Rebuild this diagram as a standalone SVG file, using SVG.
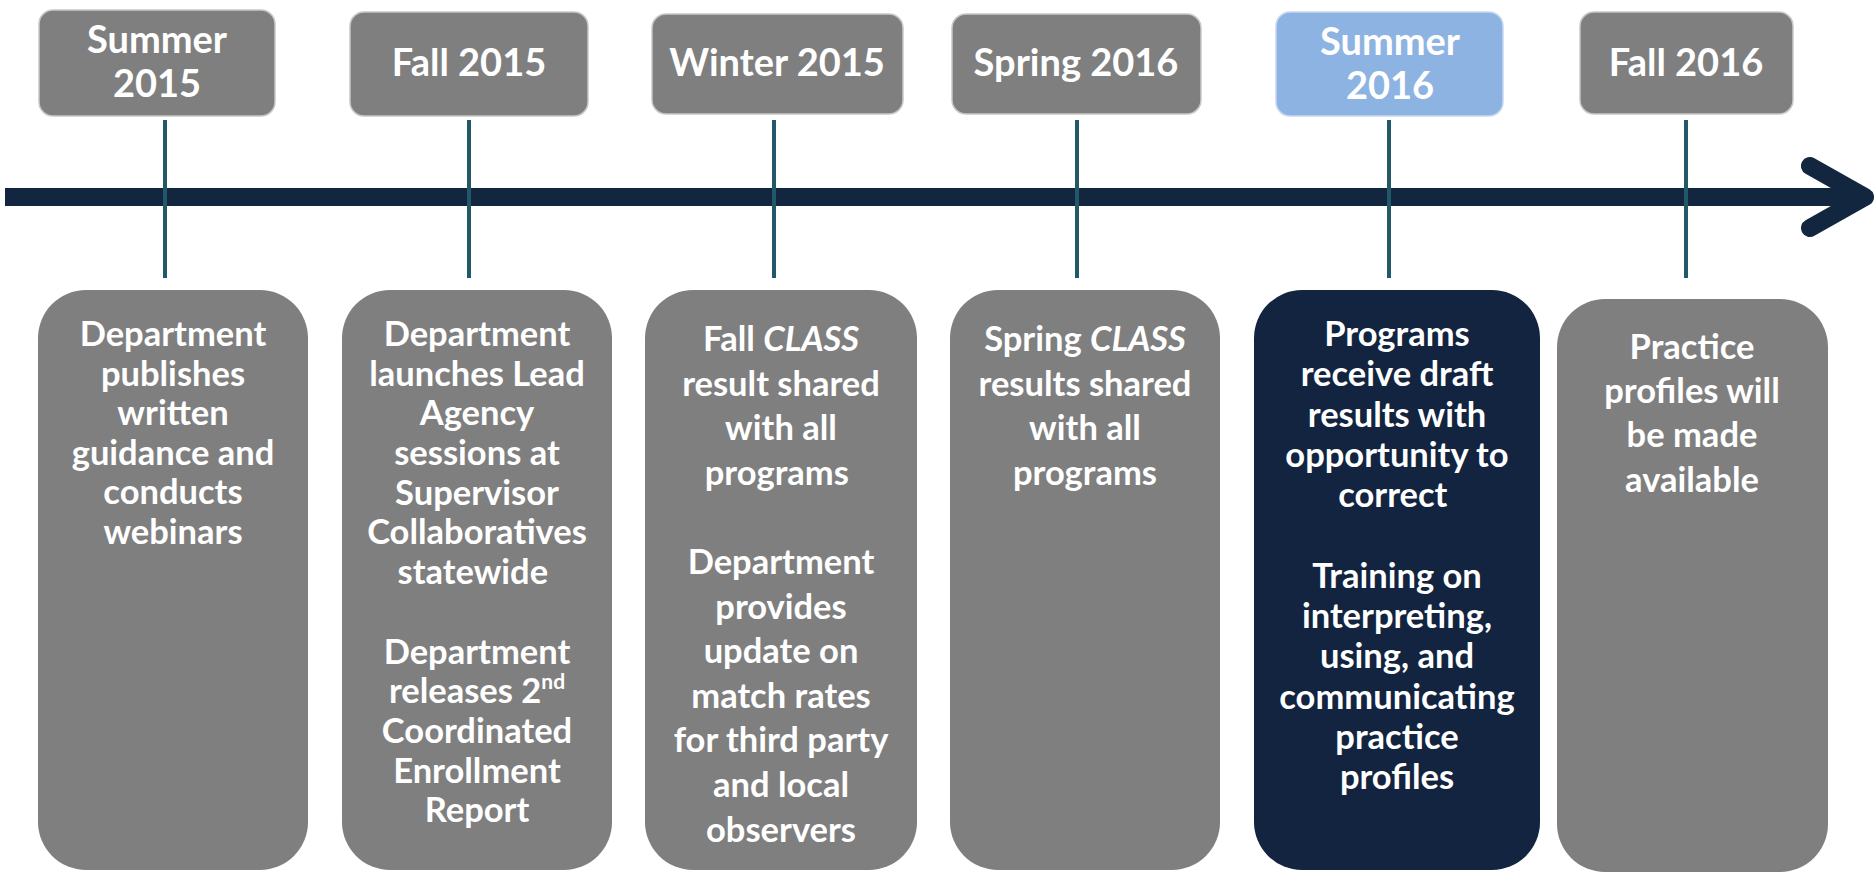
<svg xmlns="http://www.w3.org/2000/svg" width="1874" height="880" viewBox="0 0 1874 880">
<style>
.hdr{fill:#7f7f7f;stroke:#c8c8c8;stroke-width:1.5}
.hdrb{fill:#8db3e2;stroke:#c8d8ee;stroke-width:1.5}
.box{fill:#7f7f7f}
.boxd{fill:#12243f}
.ht{font-family:Lato,"Liberation Sans",sans-serif;font-weight:700;font-size:38px;fill:#fff;text-anchor:middle}
.bt{font-family:Lato,"Liberation Sans",sans-serif;font-weight:700;font-size:34.5px;fill:#fff;text-anchor:middle}
.tick{stroke:#215968;stroke-width:4}
.axis{stroke:#12263f;stroke-width:18;fill:none;stroke-linecap:round;stroke-linejoin:round}
</style>
<rect width="1874" height="880" fill="#fff"/>
<g id="connectors">
<line class="axis" x1="5" y1="197" x2="1862" y2="197" style="stroke-linecap:butt"/>
<polyline class="axis" points="1810,166 1865,197 1810,228"/>
<line class="tick" x1="165" y1="120" x2="165" y2="278"/>
<line class="tick" x1="469" y1="120" x2="469" y2="278"/>
<line class="tick" x1="774" y1="120" x2="774" y2="278"/>
<line class="tick" x1="1077" y1="120" x2="1077" y2="278"/>
<line class="tick" x1="1389" y1="120" x2="1389" y2="278"/>
<line class="tick" x1="1686" y1="120" x2="1686" y2="278"/>
</g>
<g id="h1"><rect class="hdr" x="39" y="10" width="236" height="106" rx="14"/>
<text class="ht" x="157" y="53">Summer</text><text class="ht" x="157" y="97">2015</text></g>
<g id="h2"><rect class="hdr" x="350" y="12" width="238" height="104" rx="14"/>
<text class="ht" x="469" y="76">Fall 2015</text></g>
<g id="h3"><rect class="hdr" x="652" y="14" width="251" height="100" rx="14"/>
<text class="ht" x="777" y="76">Winter 2015</text></g>
<g id="h4"><rect class="hdr" x="952" y="14" width="249" height="100" rx="14"/>
<text class="ht" x="1076" y="76">Spring 2016</text></g>
<g id="h5"><rect class="hdrb" x="1276" y="12" width="227" height="104" rx="14"/>
<text class="ht" x="1390" y="55">Summer</text><text class="ht" x="1390" y="99">2016</text></g>
<g id="h6"><rect class="hdr" x="1580" y="12" width="213" height="102" rx="14"/>
<text class="ht" x="1686" y="76">Fall 2016</text></g>

<g id="b1"><rect class="box" x="38" y="290" width="270" height="580" rx="48"/>
<text class="bt">
<tspan x="173" y="346">Department</tspan><tspan x="173" y="386">publishes</tspan><tspan x="173" y="425">written</tspan><tspan x="173" y="465">guidance and</tspan><tspan x="173" y="504">conducts</tspan><tspan x="173" y="544">webinars</tspan>
</text></g>
<g id="b2"><rect class="box" x="342" y="290" width="270" height="580" rx="48"/>
<text class="bt">
<tspan x="477" y="346">Department</tspan><tspan x="477" y="386">launches Lead</tspan><tspan x="477" y="425">Agency</tspan><tspan x="477" y="465">sessions at</tspan><tspan x="477" y="505">Supervisor</tspan><tspan x="477" y="544">Collaboratives</tspan><tspan x="477" y="584">statewide</tspan>
<tspan x="477" y="664">Department</tspan><tspan x="477" y="703">releases 2<tspan font-size="21" dy="-14">nd</tspan></tspan><tspan x="477" y="743">Coordinated</tspan><tspan x="477" y="783">Enrollment</tspan><tspan x="477" y="822">Report</tspan>
</text></g>
<g id="b3"><rect class="box" x="645" y="290" width="272" height="580" rx="48"/>
<text class="bt">
<tspan x="781" y="351">Fall <tspan font-style="italic">CLASS</tspan></tspan><tspan x="781" y="396">result shared</tspan><tspan x="781" y="440">with all</tspan><tspan x="781" y="485">programs</tspan>
<tspan x="781" y="574">Department</tspan><tspan x="781" y="619">provides</tspan><tspan x="781" y="663">update on</tspan><tspan x="781" y="708">match rates</tspan><tspan x="781" y="752">for third party</tspan><tspan x="781" y="797">and local</tspan><tspan x="781" y="842">observers</tspan>
</text></g>
<g id="b4"><rect class="box" x="950" y="290" width="270" height="580" rx="48"/>
<text class="bt">
<tspan x="1085" y="351">Spring <tspan font-style="italic">CLASS</tspan></tspan><tspan x="1085" y="396">results shared</tspan><tspan x="1085" y="440">with all</tspan><tspan x="1085" y="485">programs</tspan>
</text></g>
<g id="b5"><rect class="boxd" x="1254" y="290" width="286" height="580" rx="48"/>
<text class="bt">
<tspan x="1397" y="346">Programs</tspan><tspan x="1397" y="386">receive draft</tspan><tspan x="1397" y="427">results with</tspan><tspan x="1397" y="467">opportunity to</tspan><tspan x="1397" y="507">correct</tspan>
<tspan x="1397" y="588">Training on</tspan><tspan x="1397" y="628">interpreting,</tspan><tspan x="1397" y="668">using, and</tspan><tspan x="1397" y="709">communicating</tspan><tspan x="1397" y="749">practice</tspan><tspan x="1397" y="789">profiles</tspan>
</text></g>
<g id="b6"><rect class="box" x="1557" y="299" width="271" height="573" rx="48"/>
<text class="bt">
<tspan x="1692" y="359">Practice</tspan><tspan x="1692" y="403">profiles will</tspan><tspan x="1692" y="447">be made</tspan><tspan x="1692" y="492">available</tspan>
</text></g>
</svg>
